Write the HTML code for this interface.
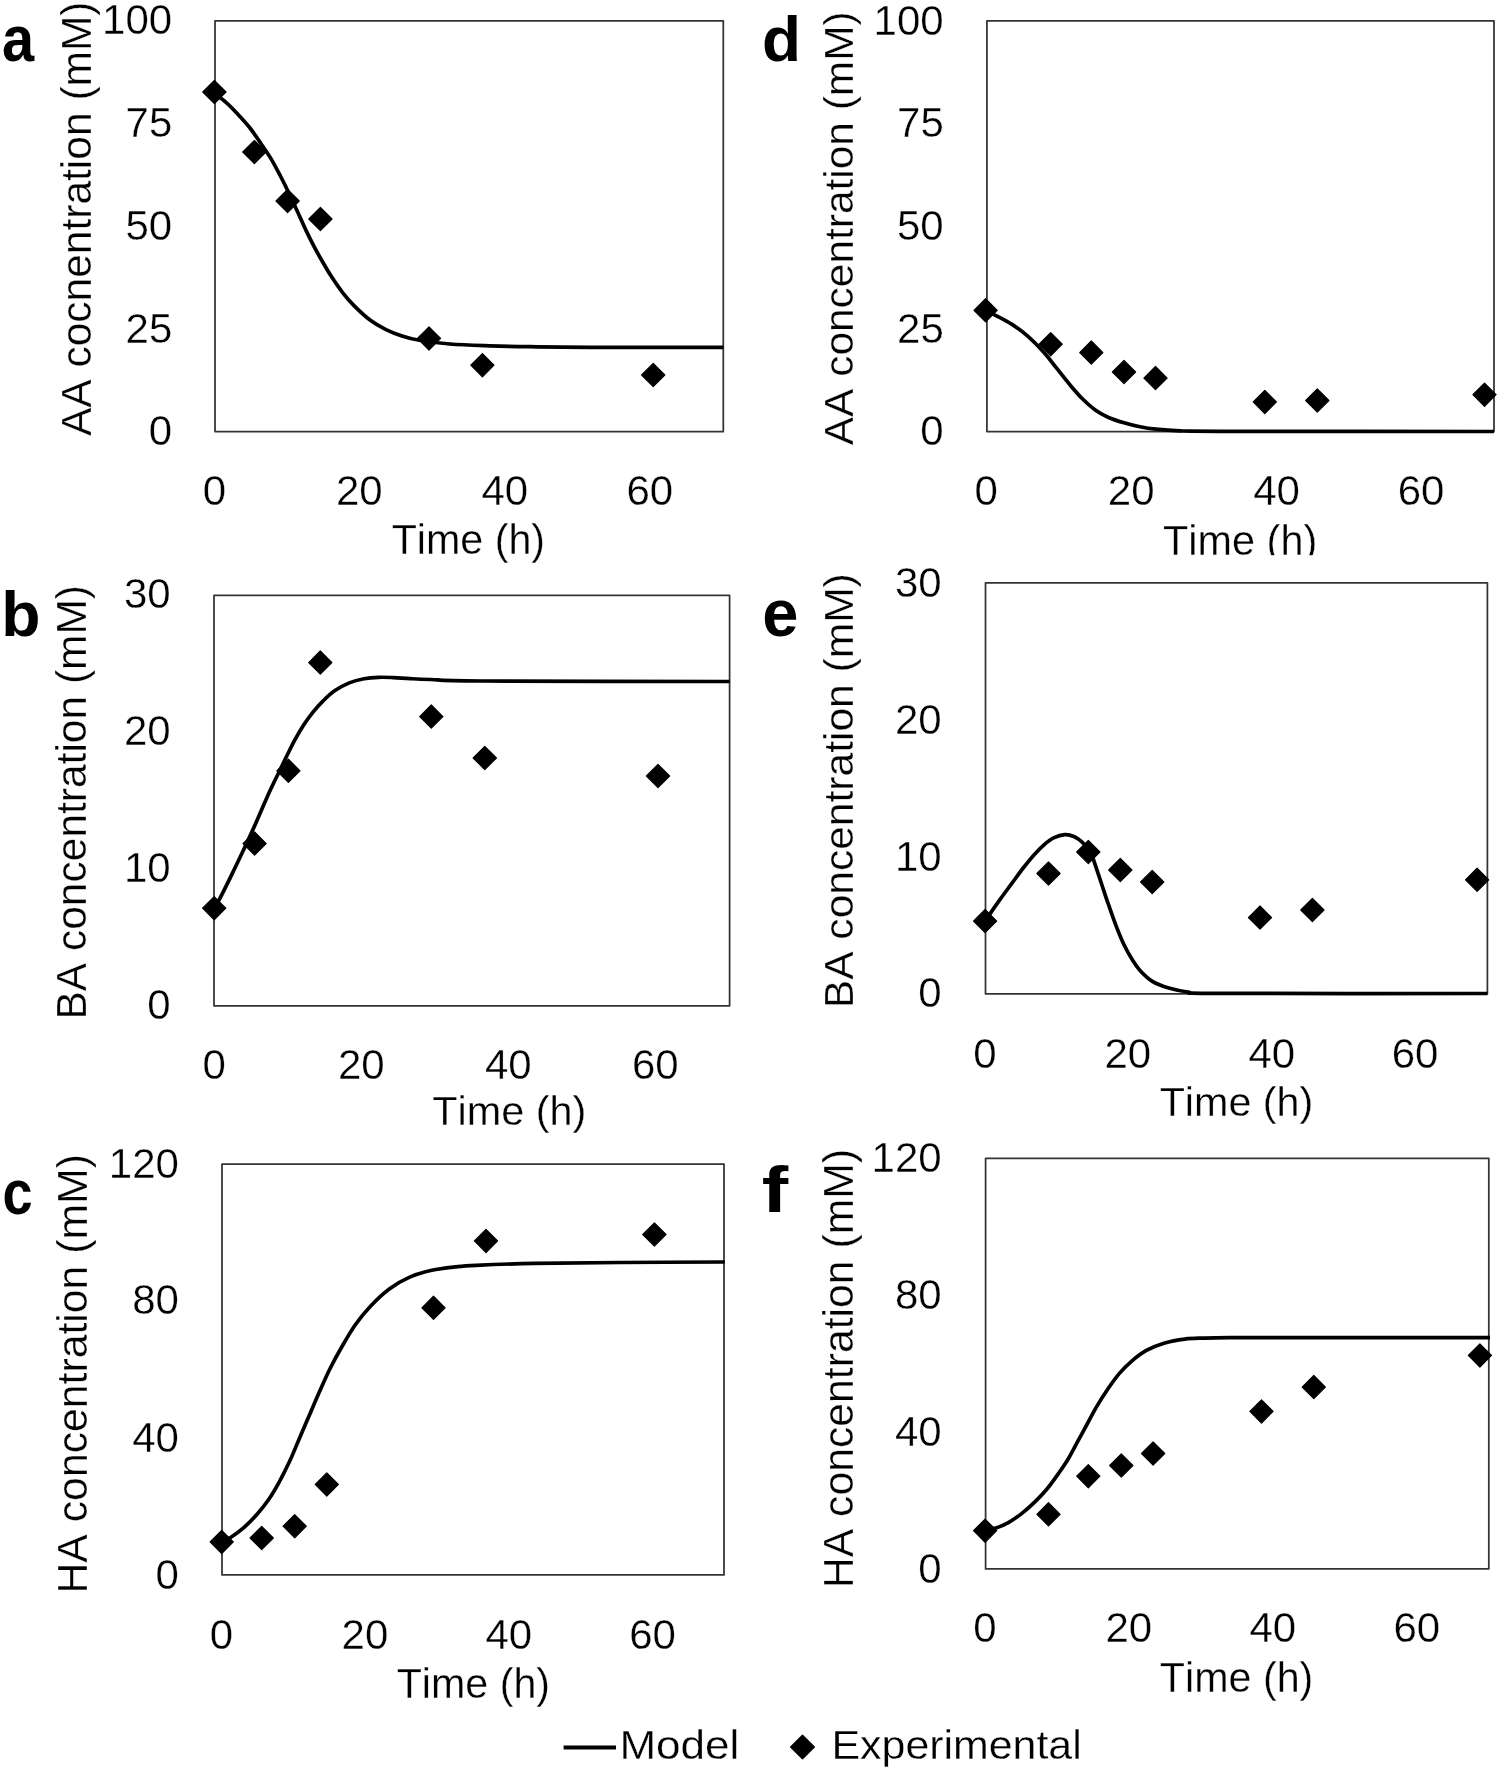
<!DOCTYPE html>
<html><head><meta charset="utf-8"><style>
html,body{margin:0;padding:0;background:#fff;}
svg{display:block;will-change:transform;}
text{font-family:"Liberation Sans",sans-serif;fill:#000;font-kerning:none;stroke:#fff;stroke-width:0.3px;}
.bd{stroke:none;}
.dm{fill:#000;stroke:#000;stroke-width:1.2;stroke-linejoin:round;}
.bx{fill:none;stroke:#333;stroke-width:1.75;stroke-linejoin:round;}
.ln{fill:none;stroke:#000;stroke-width:3.7;stroke-linejoin:round;stroke-linecap:butt;}
</style></head><body>
<svg width="1500" height="1773" viewBox="0 0 1500 1773">
<rect width="1500" height="1773" fill="#fff"/>
<rect x="215" y="20.8" width="508.3" height="410.8" class="bx"/>
<text transform="translate(2.01,60.9) scale(0.8830,1)" font-size="65.42" font-weight="bold" class="bd">a</text>
<text x="102.07" y="34.46" font-size="42" font-weight="normal">100</text>
<text x="125.55" y="137.04" font-size="42" font-weight="normal">75</text>
<text x="125.42" y="239.96" font-size="42" font-weight="normal">50</text>
<text x="125.55" y="342.96" font-size="42" font-weight="normal">25</text>
<text x="148.78" y="445.16" font-size="42" font-weight="normal">0</text>
<text x="202.82" y="504.96" font-size="42" font-weight="normal">0</text>
<text x="336.01" y="504.96" font-size="42" font-weight="normal">20</text>
<text x="481.48" y="504.96" font-size="42" font-weight="normal">40</text>
<text x="626.4" y="504.96" font-size="42" font-weight="normal">60</text>
<text transform="translate(391.67,554.4) scale(0.9850,1)" font-size="41.86" font-weight="normal">Time (h)</text>
<text transform="translate(91.2,436.08) rotate(-90) scale(1.0051,1)" font-size="42.3" font-weight="normal">AA cocnentration (mM)</text>
<path class="ln" d="M215 94C216.83 95.4 222.3 99.13 226 102.4C229.7 105.67 233.2 109.33 237.2 113.6C241.2 117.87 246 122.93 250 128C254 133.07 257.73 138.93 261.2 144C264.67 149.07 267.6 153.07 270.8 158.4C274 163.73 277.73 170.93 280.4 176C283.07 181.07 283.87 182.67 286.8 188.8C289.73 194.93 294.8 205.87 298 212.8C301.2 219.73 303.33 224.8 306 230.4C308.67 236 311.33 241.33 314 246.4C316.67 251.47 319.07 255.73 322 260.8C324.93 265.87 328.13 271.47 331.6 276.8C335.07 282.13 339.07 288 342.8 292.8C346.53 297.6 349.47 301.07 354 305.6C358.53 310.13 364.67 316 370 320C375.33 324 380.67 326.93 386 329.6C391.33 332.27 396.67 334.27 402 336C407.33 337.73 410 338.67 418 340C426 341.33 438 343.03 450 344C462 344.97 476.67 345.35 490 345.8C503.33 346.25 513.33 346.45 530 346.7C546.67 346.95 557.78 347.18 590 347.3C622.22 347.42 701.08 347.38 723.3 347.4"/>
<path class="dm" d="M214.4 80.4L226 92L214.4 103.6L202.8 92Z"/>
<path class="dm" d="M254.4 140.4L266 152L254.4 163.6L242.8 152Z"/>
<path class="dm" d="M287.6 189.4L299.2 201L287.6 212.6L276 201Z"/>
<path class="dm" d="M320.4 207.4L332 219L320.4 230.6L308.8 219Z"/>
<path class="dm" d="M429 326.8L440.6 338.4L429 350L417.4 338.4Z"/>
<path class="dm" d="M482.4 353.6L494 365.2L482.4 376.8L470.8 365.2Z"/>
<path class="dm" d="M653.2 363.4L664.8 375L653.2 386.6L641.6 375Z"/>
<rect x="214" y="595.3" width="515.6" height="410.5" class="bx"/>
<text transform="translate(1.36,636) scale(1.0128,1)" font-size="63.48" font-weight="bold" class="bd">b</text>
<text x="123.92" y="607.76" font-size="42" font-weight="normal">30</text>
<text x="123.92" y="745.26" font-size="42" font-weight="normal">20</text>
<text x="123.92" y="882.46" font-size="42" font-weight="normal">10</text>
<text x="147.28" y="1018.76" font-size="42" font-weight="normal">0</text>
<text x="202.62" y="1079.16" font-size="42" font-weight="normal">0</text>
<text x="338.01" y="1079.16" font-size="42" font-weight="normal">20</text>
<text x="484.98" y="1079.16" font-size="42" font-weight="normal">40</text>
<text x="632" y="1079.16" font-size="42" font-weight="normal">60</text>
<text transform="translate(432.27,1125) scale(0.9959,1)" font-size="41.57" font-weight="normal">Time (h)</text>
<text transform="translate(85.9,1019.49) rotate(-90) scale(1.0153,1)" font-size="41.86" font-weight="normal">BA concentration (mM)</text>
<path class="ln" d="M214.2 908.2C214.97 906.92 215.83 906.18 218.8 900.5C221.77 894.82 227.85 882.58 232 874.1C236.15 865.62 240.28 856.85 243.7 849.6C247.12 842.35 249.57 837.12 252.5 830.6C255.43 824.08 258.37 817.18 261.3 810.5C264.23 803.82 267.17 796.88 270.1 790.5C273.03 784.12 276.08 778.03 278.9 772.2C281.72 766.37 284.32 760.92 287 755.5C289.68 750.08 292.2 744.82 295 739.7C297.8 734.58 300.87 729.32 303.8 724.8C306.73 720.28 309.42 716.55 312.6 712.6C315.78 708.65 319.23 704.73 322.9 701.1C326.57 697.47 330.2 693.83 334.6 690.8C339 687.77 344.4 684.9 349.3 682.9C354.2 680.9 359.12 679.73 364 678.8C368.88 677.87 373.72 677.5 378.6 677.3C383.48 677.1 388.07 677.38 393.3 677.6C398.53 677.82 403.75 678.28 410 678.6C416.25 678.92 418.88 679.1 430.8 679.5C442.72 679.9 431.7 680.67 481.5 681C531.3 681.33 688.25 681.42 729.6 681.5"/>
<path class="dm" d="M214.2 896.6L225.8 908.2L214.2 919.8L202.6 908.2Z"/>
<path class="dm" d="M254.6 832L266.2 843.6L254.6 855.2L243 843.6Z"/>
<path class="dm" d="M288.4 759.2L300 770.8L288.4 782.4L276.8 770.8Z"/>
<path class="dm" d="M320.3 651L331.9 662.6L320.3 674.2L308.7 662.6Z"/>
<path class="dm" d="M431.3 705L442.9 716.6L431.3 728.2L419.7 716.6Z"/>
<path class="dm" d="M484.8 746.4L496.4 758L484.8 769.6L473.2 758Z"/>
<path class="dm" d="M658 764.4L669.6 776L658 787.6L646.4 776Z"/>
<rect x="222" y="1164.2" width="502" height="410.7" class="bx"/>
<text transform="translate(2.49,1213.5) scale(0.8515,1)" font-size="63.56" font-weight="bold" class="bd">c</text>
<text x="108.87" y="1177.66" font-size="42" font-weight="normal">120</text>
<text x="132.22" y="1314.46" font-size="42" font-weight="normal">80</text>
<text x="132.22" y="1451.86" font-size="42" font-weight="normal">40</text>
<text x="155.58" y="1589.26" font-size="42" font-weight="normal">0</text>
<text x="209.72" y="1648.66" font-size="42" font-weight="normal">0</text>
<text x="341.61" y="1648.66" font-size="42" font-weight="normal">20</text>
<text x="485.38" y="1648.66" font-size="42" font-weight="normal">40</text>
<text x="629.2" y="1648.66" font-size="42" font-weight="normal">60</text>
<text transform="translate(396.67,1697.6) scale(0.9850,1)" font-size="41.86" font-weight="normal">Time (h)</text>
<text transform="translate(87.4,1593.51) rotate(-90) scale(0.9940,1)" font-size="43.02" font-weight="normal">HA concentration (mM)</text>
<path class="ln" d="M222 1541.5C223.37 1540.87 226.57 1540.02 230.2 1537.7C233.83 1535.38 239.28 1531.55 243.8 1527.6C248.32 1523.65 253.07 1518.8 257.3 1514C261.53 1509.2 265.53 1504.15 269.2 1498.8C272.87 1493.45 275.92 1488.1 279.3 1481.9C282.68 1475.7 286.12 1468.93 289.5 1461.6C292.88 1454.27 296.22 1445.8 299.6 1437.9C302.98 1430 306.4 1422.1 309.8 1414.2C313.2 1406.3 316.62 1398.12 320 1390.5C323.38 1382.88 326.43 1375.83 330.1 1368.5C333.77 1361.17 337.77 1353.83 342 1346.5C346.23 1339.17 350.72 1331.27 355.5 1324.5C360.28 1317.73 365.07 1311.83 370.7 1305.9C376.33 1299.97 382.8 1293.7 389.3 1288.9C395.8 1284.1 402.63 1280.2 409.7 1277.1C416.77 1274 424.15 1272 431.7 1270.3C439.25 1268.6 447.62 1267.73 455 1266.9C462.38 1266.07 462.72 1265.88 476 1265.3C489.28 1264.72 510.25 1263.87 534.7 1263.4C559.15 1262.93 591.02 1262.73 622.7 1262.5C654.38 1262.27 707.78 1262.08 724.8 1262"/>
<path class="dm" d="M221.7 1530.3L233.3 1541.9L221.7 1553.5L210.1 1541.9Z"/>
<path class="dm" d="M261.7 1526.4L273.3 1538L261.7 1549.6L250.1 1538Z"/>
<path class="dm" d="M294.7 1514.6L306.3 1526.2L294.7 1537.8L283.1 1526.2Z"/>
<path class="dm" d="M326.8 1472.8L338.4 1484.4L326.8 1496L315.2 1484.4Z"/>
<path class="dm" d="M433.5 1296.2L445.1 1307.8L433.5 1319.4L421.9 1307.8Z"/>
<path class="dm" d="M486 1229.3L497.6 1240.9L486 1252.5L474.4 1240.9Z"/>
<path class="dm" d="M654.4 1222.9L666 1234.5L654.4 1246.1L642.8 1234.5Z"/>
<rect x="986.9" y="20.9" width="507.1" height="410.7" class="bx"/>
<text transform="translate(762.08,60.8) scale(1.0154,1)" font-size="62.93" font-weight="bold" class="bd">d</text>
<text x="873.57" y="35.06" font-size="42" font-weight="normal">100</text>
<text x="897.05" y="137.14" font-size="42" font-weight="normal">75</text>
<text x="896.92" y="240.36" font-size="42" font-weight="normal">50</text>
<text x="897.05" y="342.96" font-size="42" font-weight="normal">25</text>
<text x="920.28" y="445.36" font-size="42" font-weight="normal">0</text>
<text x="974.62" y="505.46" font-size="42" font-weight="normal">0</text>
<text x="1107.81" y="505.46" font-size="42" font-weight="normal">20</text>
<text x="1253.28" y="505.46" font-size="42" font-weight="normal">40</text>
<text x="1397.7" y="505.46" font-size="42" font-weight="normal">60</text>
<text transform="translate(1163.07,554.7) scale(0.9931,1)" font-size="41.72" font-weight="normal">Time (h)</text>
<rect x="1150" y="555.2" width="180" height="25" fill="#fff"/>
<text transform="translate(852.6,445.18) rotate(-90) scale(1.0208,1)" font-size="41.57" font-weight="normal">AA concentration (mM)</text>
<path class="ln" d="M986.9 311C988.42 311.77 991.82 313.37 996 315.6C1000.18 317.83 1006.67 320.93 1012 324.4C1017.33 327.87 1022.67 331.73 1028 336.4C1033.33 341.07 1039.2 347.07 1044 352.4C1048.8 357.73 1052.53 363.07 1056.8 368.4C1061.07 373.73 1065.33 379.33 1069.6 384.4C1073.87 389.47 1078.13 394.53 1082.4 398.8C1086.67 403.07 1090.93 406.93 1095.2 410C1099.47 413.07 1103.2 415.07 1108 417.2C1112.8 419.33 1118.67 421.2 1124 422.8C1129.33 424.4 1134.67 425.73 1140 426.8C1145.33 427.87 1149.33 428.53 1156 429.2C1162.67 429.87 1169.33 430.45 1180 430.8C1190.67 431.15 1167.67 431.18 1220 431.3C1272.33 431.42 1448.33 431.47 1494 431.5"/>
<path class="dm" d="M985.6 298.7L997.2 310.3L985.6 321.9L974 310.3Z"/>
<path class="dm" d="M1050.7 332.6L1062.3 344.2L1050.7 355.8L1039.1 344.2Z"/>
<path class="dm" d="M1091.3 341L1102.9 352.6L1091.3 364.2L1079.7 352.6Z"/>
<path class="dm" d="M1124 360.4L1135.6 372L1124 383.6L1112.4 372Z"/>
<path class="dm" d="M1155.5 366.5L1167.1 378.1L1155.5 389.7L1143.9 378.1Z"/>
<path class="dm" d="M1264.8 390.3L1276.4 401.9L1264.8 413.5L1253.2 401.9Z"/>
<path class="dm" d="M1317.3 388.9L1328.9 400.5L1317.3 412.1L1305.7 400.5Z"/>
<path class="dm" d="M1484.5 383.1L1496.1 394.7L1484.5 406.3L1472.9 394.7Z"/>
<rect x="985.5" y="582.8" width="501.9" height="411" class="bx"/>
<text transform="translate(762.16,636) scale(0.9856,1)" font-size="65.97" font-weight="bold" class="bd">e</text>
<text x="894.92" y="596.96" font-size="42" font-weight="normal">30</text>
<text x="894.92" y="733.86" font-size="42" font-weight="normal">20</text>
<text x="894.92" y="870.86" font-size="42" font-weight="normal">10</text>
<text x="918.28" y="1006.96" font-size="42" font-weight="normal">0</text>
<text x="973.32" y="1067.86" font-size="42" font-weight="normal">0</text>
<text x="1104.41" y="1067.86" font-size="42" font-weight="normal">20</text>
<text x="1248.38" y="1067.86" font-size="42" font-weight="normal">40</text>
<text x="1391.7" y="1067.86" font-size="42" font-weight="normal">60</text>
<text x="1159.67" y="1116.4" font-size="41.28" font-weight="normal">Time (h)</text>
<text transform="translate(852.6,1008.19) rotate(-90) scale(1.0236,1)" font-size="41.57" font-weight="normal">BA concentration (mM)</text>
<path class="ln" d="M985.6 920.5C986.27 919.48 987.07 918.08 989.6 914.4C992.13 910.72 997.07 903.6 1000.8 898.4C1004.53 893.2 1008.27 888.27 1012 883.2C1015.73 878.13 1019.47 872.8 1023.2 868C1026.93 863.2 1030.93 858.27 1034.4 854.4C1037.87 850.53 1040.8 847.55 1044 844.8C1047.2 842.05 1050.13 839.58 1053.6 837.9C1057.07 836.22 1061.33 834.88 1064.8 834.7C1068.27 834.52 1071.47 835.52 1074.4 836.8C1077.33 838.08 1079.73 839.87 1082.4 842.4C1085.07 844.93 1088.27 848.27 1090.4 852C1092.53 855.73 1093.33 859.47 1095.2 864.8C1097.07 870.13 1099.47 877.6 1101.6 884C1103.73 890.4 1105.6 896.27 1108 903.2C1110.4 910.13 1113.33 918.67 1116 925.6C1118.67 932.53 1121.33 939.2 1124 944.8C1126.67 950.4 1129.33 954.93 1132 959.2C1134.67 963.47 1136.53 966.67 1140 970.4C1143.47 974.13 1148 978.67 1152.8 981.6C1157.6 984.53 1162.93 986.27 1168.8 988C1174.67 989.73 1179.47 991.1 1188 992C1196.53 992.9 1170.1 993.15 1220 993.4C1269.9 993.65 1442.83 993.48 1487.4 993.5"/>
<path class="dm" d="M985.1 909.5L996.7 921.1L985.1 932.7L973.5 921.1Z"/>
<path class="dm" d="M1048.5 861.9L1060.1 873.5L1048.5 885.1L1036.9 873.5Z"/>
<path class="dm" d="M1088.3 840.4L1099.9 852L1088.3 863.6L1076.7 852Z"/>
<path class="dm" d="M1120.3 858.4L1131.9 870L1120.3 881.6L1108.7 870Z"/>
<path class="dm" d="M1152.2 870.4L1163.8 882L1152.2 893.6L1140.6 882Z"/>
<path class="dm" d="M1260 906L1271.6 917.6L1260 929.2L1248.4 917.6Z"/>
<path class="dm" d="M1312.4 898.4L1324 910L1312.4 921.6L1300.8 910Z"/>
<path class="dm" d="M1477.1 868.2L1488.7 879.8L1477.1 891.4L1465.5 879.8Z"/>
<rect x="985.6" y="1158.3" width="503.2" height="410.6" class="bx"/>
<text transform="translate(761.84,1212.3) scale(1.2323,1)" font-size="64.59" font-weight="bold" class="bd">f</text>
<text x="871.57" y="1172.36" font-size="42" font-weight="normal">120</text>
<text x="894.92" y="1308.76" font-size="42" font-weight="normal">80</text>
<text x="894.92" y="1445.76" font-size="42" font-weight="normal">40</text>
<text x="918.28" y="1582.76" font-size="42" font-weight="normal">0</text>
<text x="973.32" y="1642.46" font-size="42" font-weight="normal">0</text>
<text x="1105.41" y="1642.46" font-size="42" font-weight="normal">20</text>
<text x="1249.48" y="1642.46" font-size="42" font-weight="normal">40</text>
<text x="1393.4" y="1642.46" font-size="42" font-weight="normal">60</text>
<text transform="translate(1159.87,1691.8) scale(0.9850,1)" font-size="41.86" font-weight="normal">Time (h)</text>
<text transform="translate(852.6,1588.21) rotate(-90) scale(1.0104,1)" font-size="42.3" font-weight="normal">HA concentration (mM)</text>
<path class="ln" d="M985.6 1530C987.33 1529.67 992.13 1529.27 996 1528C999.87 1526.73 1004.53 1524.8 1008.8 1522.4C1013.07 1520 1017.33 1516.93 1021.6 1513.6C1025.87 1510.27 1030.13 1506.53 1034.4 1502.4C1038.67 1498.27 1043.2 1493.6 1047.2 1488.8C1051.2 1484 1054.93 1478.53 1058.4 1473.6C1061.87 1468.67 1064.8 1464.53 1068 1459.2C1071.2 1453.87 1074.4 1447.47 1077.6 1441.6C1080.8 1435.73 1084 1429.87 1087.2 1424C1090.4 1418.13 1093.33 1412.27 1096.8 1406.4C1100.27 1400.53 1104.27 1394.27 1108 1388.8C1111.73 1383.33 1115.2 1378.27 1119.2 1373.6C1123.2 1368.93 1127.47 1364.67 1132 1360.8C1136.53 1356.93 1141.07 1353.33 1146.4 1350.4C1151.73 1347.47 1157.6 1345.08 1164 1343.2C1170.4 1341.32 1178.13 1339.95 1184.8 1339.1C1191.47 1338.25 1196.47 1338.33 1204 1338.1C1211.53 1337.87 1214 1337.78 1230 1337.7C1246 1337.62 1256.67 1337.62 1300 1337.6C1343.33 1337.58 1458.33 1337.6 1490 1337.6"/>
<path class="dm" d="M985.1 1519.1L996.7 1530.7L985.1 1542.3L973.5 1530.7Z"/>
<path class="dm" d="M1048.5 1502.7L1060.1 1514.3L1048.5 1525.9L1036.9 1514.3Z"/>
<path class="dm" d="M1088.3 1464.6L1099.9 1476.2L1088.3 1487.8L1076.7 1476.2Z"/>
<path class="dm" d="M1121.3 1453.9L1132.9 1465.5L1121.3 1477.1L1109.7 1465.5Z"/>
<path class="dm" d="M1153.1 1441.9L1164.7 1453.5L1153.1 1465.1L1141.5 1453.5Z"/>
<path class="dm" d="M1261.5 1399.8L1273.1 1411.4L1261.5 1423L1249.9 1411.4Z"/>
<path class="dm" d="M1313.8 1375.5L1325.4 1387.1L1313.8 1398.7L1302.2 1387.1Z"/>
<path class="dm" d="M1479.9 1343.8L1491.5 1355.4L1479.9 1367L1468.3 1355.4Z"/>
<path d="M563.6 1747.6H616" stroke="#000" stroke-width="4"/>
<text transform="translate(619.39,1759) scale(1.0822,1)" font-size="40.7" font-weight="normal">Model</text>
<path class="dm" d="M802.5 1735.1L814.4 1747L802.5 1758.9L790.6 1747Z"/>
<text transform="translate(831.48,1759) scale(1.0542,1)" font-size="40.7" font-weight="normal">Experimental</text>
</svg>
</body></html>
